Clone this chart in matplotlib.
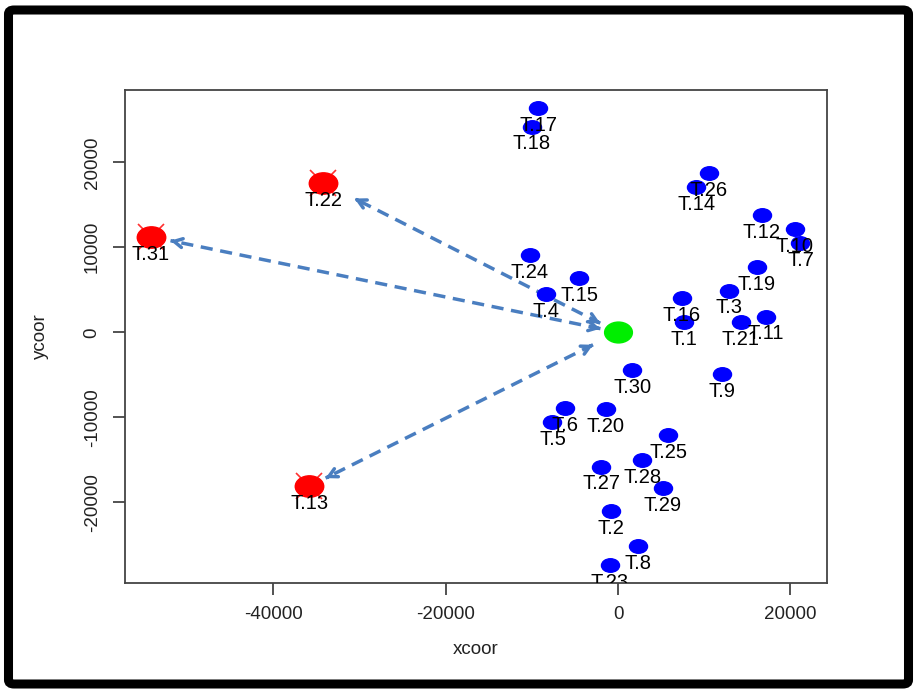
import matplotlib
matplotlib.use("Agg")
import matplotlib.pyplot as plt
from matplotlib.path import Path
from matplotlib.transforms import Affine2D
from matplotlib.patches import FancyBboxPatch
import numpy as np

plt.rcParams['font.family'] = ['Liberation Sans', 'DejaVu Sans']

# blue traps
trap_names = ["T.1", "T.2", "T.3", "T.4", "T.5", "T.6", "T.7", "T.8", "T.9", "T.10",
              "T.11", "T.12", "T.14", "T.15", "T.16", "T.17", "T.18", "T.19", "T.20",
              "T.21", "T.23", "T.24", "T.25", "T.26", "T.27", "T.28", "T.29", "T.30"]
trap_x = [7620, -770, 12840, -8310, -7610, -6100, 21160, 2320, 12000, 20500,
          17130, 16670, 9090, -4520, 7420, -9280, -9980, 16090, -1430,
          14230, -960, -10240, 5800, 10520, -1970, 2830, 5220, 1670]
trap_y = [1250, -21000, 4900, 4500, -10600, -8940, 10470, -25200, -4900, 12150,
          1840, 13800, 17060, 6350, 4070, 26350, 24200, 7650, -9020,
          1180, -27400, 9090, -12080, 18700, -15800, -15000, -18350, -4440]

# red outlying traps
far_names = ["T.31", "T.22", "T.13"]
far_x = [-54200, -34200, -35800]
far_y = [11250, 17600, -18100]

# green centre
centre_x = [0]
centre_y = [0]

x_ticks = [-40000, -20000, 0, 20000]
y_ticks = [-20000, -10000, 0, 10000, 20000]

fig = plt.figure(figsize=(9.18, 6.94), dpi=100)
ax = fig.add_axes([0.1362, 0.1599, 0.7643, 0.7104])
ax.set_xlim(-57200, 24200)
ax.set_ylim(-29500, 28500)

# squashed circle, the picture is stretched sideways
circ = Path.unit_circle()
oval = Path(Affine2D().scale(1.0, 0.75).transform(circ.vertices), circ.codes)

ax.plot(trap_x, trap_y, ls='none', marker=oval, ms=13, mfc='#0000ff', mec='#0000ff', zorder=3)
ax.plot(far_x, far_y, ls='none', marker='x', ms=19, mec='#ff3030', mew=1.2, zorder=3)
ax.plot(far_x, far_y, ls='none', marker=oval, ms=20.5, mfc='#ff0000', mec='#ff0000', zorder=4)
ax.plot(centre_x, centre_y, ls='none', marker=oval, ms=20, mfc='#00ee00', mec='#00ee00', zorder=4)

for n, x, y in zip(trap_names + far_names, trap_x + far_x, trap_y + far_y):
    ax.annotate(n, (x, y), xytext=(0, -12.5), textcoords='offset points',
                ha='center', va='center', fontsize=14.5, color='black',
                annotation_clip=False, clip_on=True, zorder=5)

# dashed double arrows from the centre to the red traps
arrow_col = '#4a7ec0'
gaps = [(18, 20), (20, 35), (28, 18)]
tr = ax.transData
c = tr.transform((centre_x[0], centre_y[0]))
for fx, fy, (g0, g1) in zip(far_x, far_y, gaps):
    p = tr.transform((fx, fy))
    d = (p - c) / np.hypot(*(p - c))
    a = tr.inverted().transform(c + d * g0)
    b = tr.inverted().transform(p - d * g1)
    ax.plot([a[0], b[0]], [a[1], b[1]], color=arrow_col, lw=2.5, ls=(0, (3.5, 2.2)),
            solid_capstyle='butt', dash_capstyle='butt', zorder=2)
    for tip, back in ((b, p - d * (g1 + 3)), (a, c + d * (g0 + 3))):
        ax.annotate('', xy=tip, xytext=tr.inverted().transform(back),
                    arrowprops=dict(arrowstyle='->,head_length=0.6,head_width=0.32',
                                    color=arrow_col, lw=2.5, shrinkA=0, shrinkB=0),
                    zorder=2)

ax.set_xticks(x_ticks)
ax.set_yticks(y_ticks)
ax.set_xticklabels([str(v) for v in x_ticks])
ax.set_yticklabels([str(v) for v in y_ticks], rotation=90, va='center')
ax.tick_params(axis='both', length=8.5, width=1.3, color='#444444', labelsize=13.5, labelcolor='#222222')
ax.tick_params(axis='x', pad=8)
ax.tick_params(axis='y', pad=9)
for s in ax.spines.values():
    s.set_color('#444444')
    s.set_linewidth(1.3)

ax.set_xlabel('xcoor', fontsize=13.5, color='#222222', labelpad=13)
ax.set_ylabel('ycoor', fontsize=13.5, color='#222222', labelpad=25)

# thick outer frame
frame = FancyBboxPatch((8.5 / 918, 10 / 694), 900 / 918, 674 / 694,
                       boxstyle='round,pad=0,rounding_size=0.006',
                       transform=fig.transFigure, fill=False, ec='black', lw=6.5)
fig.patches.append(frame)

fig.savefig('out.png', dpi=100)
